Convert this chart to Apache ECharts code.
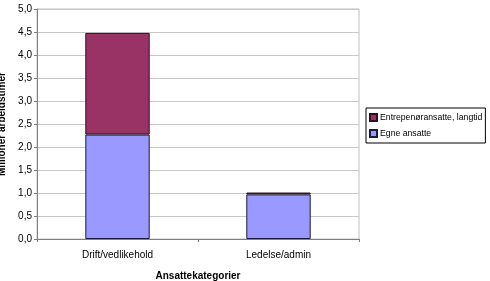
<!DOCTYPE html>
<html>
<head>
<meta charset="utf-8">
<script src="https://cdn.jsdelivr.net/npm/echarts@6/dist/echarts.min.js"></script>
<style>
  html, body { margin: 0; padding: 0; background: #fff; }
  #chart { width: 490px; height: 281px; }
</style>
</head>
<body>
<div id="chart"></div>
<script>
  var categories = ['Drift/vedlikehold', 'Ledelse/admin'];
  var egneAnsatte = [2.27, 0.97];
  var entreprenor = [2.21, 0.04];
  var yTicks = { min: 0, max: 5, interval: 0.5 };

  var font = 'Liberation Sans, Arial, sans-serif';
  var myChart = echarts.init(document.getElementById('chart'));
  myChart.setOption({
    animation: false,
    backgroundColor: '#fff',
    grid: {
      left: 37,
      right: 131,
      top: 9,
      bottom: 42,
      outerBoundsMode: 'none',
      containLabel: false,
      show: true,
      borderColor: '#c0c0c0',
      borderWidth: 1
    },
    legend: {
      orient: 'vertical',
      left: 366,
      top: 108,
      padding: [5, 3, 5, 3],
      itemGap: 7,
      itemWidth: 7,
      itemHeight: 7,
      borderColor: '#000',
      borderWidth: 1,
      borderRadius: 0,
      icon: 'rect',
      textStyle: { fontFamily: font, fontSize: 8.7, color: '#000', padding: [0, 0, 0, -2] },
      data: ['Entrepenøransatte, langtid', 'Egne ansatte']
    },
    xAxis: {
      type: 'category',
      data: categories,
      name: 'Ansattekategorier',
      nameLocation: 'middle',
      nameGap: 32,
      nameTextStyle: { fontFamily: font, fontSize: 10, fontWeight: 'bold', color: '#000' },
      axisLine: { lineStyle: { color: '#808080', width: 1 } },
      axisTick: { show: true, length: 3, lineStyle: { color: '#808080' } },
      axisLabel: { fontFamily: font, fontSize: 10, color: '#000', margin: 11 }
    },
    yAxis: {
      type: 'value',
      min: yTicks.min,
      max: yTicks.max,
      interval: yTicks.interval,
      name: 'Millioner arbeidstimer',
      nameLocation: 'middle',
      nameRotate: 90,
      nameGap: 26,
      nameTextStyle: { fontFamily: font, fontSize: 10, fontWeight: 'bold', color: '#000' },
      axisLine: { show: true, lineStyle: { color: '#808080', width: 1 } },
      axisTick: { show: true, length: 3, inside: false, lineStyle: { color: '#808080' } },
      axisLabel: {
        fontFamily: font, fontSize: 10, color: '#000', margin: 5,
        formatter: function (v) { return v.toFixed(1).replace('.', ','); }
      },
      splitLine: { lineStyle: { color: '#c8c8c8', width: 1 } }
    },
    series: [{
      name: 'Egne ansatte',
      type: 'bar',
      stack: 'total',
      data: egneAnsatte,
      barWidth: '40%',
      itemStyle: { color: '#9999ff', borderColor: '#1a1a40', borderWidth: 1 }
    }, {
      name: 'Entrepenøransatte, langtid',
      type: 'bar',
      stack: 'total',
      data: entreprenor,
      barWidth: '40%',
      itemStyle: { color: '#993366', borderColor: '#2a1020', borderWidth: 1 }
    }]
  });
</script>
</body>
</html>
